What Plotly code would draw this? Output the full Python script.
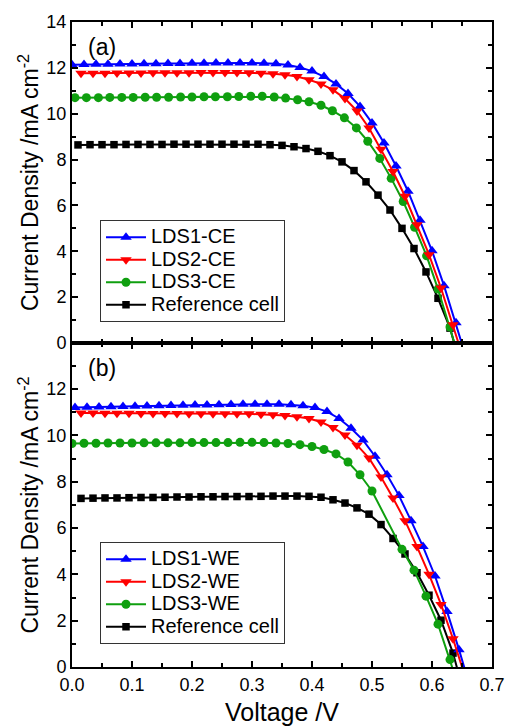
import plotly.graph_objects as go

# ---------------- Panel (a): counter electrode (CE) ----------------
V_a_lds1 = [0.00, 0.02, 0.04, 0.06, 0.08, 0.10, 0.12, 0.14, 0.16, 0.18, 0.20, 0.22, 0.24, 0.26,
            0.28, 0.30, 0.32, 0.34, 0.36, 0.38, 0.40, 0.42, 0.44, 0.46, 0.48, 0.50, 0.52, 0.54,
            0.56, 0.58, 0.60, 0.62, 0.64, 0.66]
J_a_lds1 = [12.14, 12.15, 12.16, 12.16, 12.17, 12.17, 12.18, 12.18, 12.19, 12.19, 12.20, 12.20,
            12.21, 12.21, 12.21, 12.21, 12.20, 12.18, 12.12, 12.02, 11.86, 11.62, 11.30, 10.88,
            10.32, 9.60, 8.72, 7.72, 6.62, 5.35, 4.02, 2.50, 0.88, -0.90]

V_a_lds2 = [0.015, 0.035, 0.055, 0.075, 0.095, 0.115, 0.135, 0.155, 0.175, 0.195, 0.215, 0.235,
            0.255, 0.275, 0.295, 0.315, 0.335, 0.355, 0.375, 0.395, 0.415, 0.435, 0.455, 0.475,
            0.495, 0.515, 0.535, 0.555, 0.575, 0.595, 0.615, 0.635, 0.655]
J_a_lds2 = [11.76, 11.77, 11.77, 11.78, 11.78, 11.78, 11.79, 11.79, 11.79, 11.79, 11.80, 11.80,
            11.80, 11.80, 11.79, 11.77, 11.74, 11.70, 11.62, 11.48, 11.30, 11.04, 10.66, 10.12,
            9.38, 8.45, 7.48, 6.40, 5.16, 3.85, 2.40, 0.80, -0.90]

V_a_lds3 = [0.005, 0.024, 0.044, 0.063, 0.083, 0.102, 0.122, 0.141, 0.161, 0.181, 0.200, 0.220,
            0.239, 0.259, 0.278, 0.298, 0.317, 0.337, 0.356, 0.376, 0.395, 0.415, 0.434, 0.454,
            0.474, 0.493, 0.513, 0.532, 0.552, 0.571, 0.591, 0.610, 0.630, 0.649]
J_a_lds3 = [10.70, 10.70, 10.70, 10.71, 10.71, 10.71, 10.72, 10.72, 10.72, 10.73, 10.73, 10.74,
            10.74, 10.74, 10.75, 10.76, 10.76, 10.73, 10.68, 10.61, 10.52, 10.37, 10.13, 9.82,
            9.38, 8.80, 8.05, 7.18, 6.17, 5.05, 3.80, 2.35, 0.70, -1.00]

V_a_ref = [0.01, 0.03, 0.05, 0.07, 0.09, 0.11, 0.13, 0.15, 0.17, 0.19, 0.21, 0.23, 0.25, 0.27,
           0.29, 0.31, 0.33, 0.35, 0.37, 0.39, 0.41, 0.43, 0.45, 0.47, 0.49, 0.51, 0.53, 0.55,
           0.57, 0.59, 0.61, 0.63, 0.65]
J_a_ref = [8.64, 8.65, 8.65, 8.65, 8.66, 8.66, 8.66, 8.66, 8.67, 8.67, 8.67, 8.67, 8.67, 8.67,
           8.67, 8.67, 8.65, 8.62, 8.56, 8.48, 8.36, 8.17, 7.90, 7.52, 7.03, 6.45, 5.80, 5.00,
           4.12, 3.10, 1.95, 0.65, -1.20]

# ---------------- Panel (b): working electrode (WE) ----------------
V_b_lds1 = [0.005, 0.025, 0.045, 0.065, 0.085, 0.105, 0.125, 0.145, 0.165, 0.185, 0.205, 0.225,
            0.245, 0.265, 0.285, 0.305, 0.325, 0.345, 0.365, 0.385, 0.405, 0.425, 0.445, 0.465,
            0.485, 0.505, 0.525, 0.545, 0.565, 0.585, 0.605, 0.625, 0.645, 0.665]
J_b_lds1 = [11.20, 11.22, 11.23, 11.24, 11.25, 11.26, 11.27, 11.28, 11.29, 11.30, 11.31, 11.31,
            11.32, 11.33, 11.34, 11.35, 11.35, 11.34, 11.32, 11.28, 11.20, 11.03, 10.73, 10.31,
            9.80, 9.10, 8.30, 7.40, 6.32, 5.20, 3.93, 2.40, 0.75, -1.00]

V_b_lds2 = [0.015, 0.035, 0.055, 0.075, 0.095, 0.115, 0.135, 0.155, 0.175, 0.195, 0.215, 0.235,
            0.255, 0.275, 0.295, 0.315, 0.335, 0.355, 0.375, 0.395, 0.415, 0.435, 0.455, 0.475,
            0.495, 0.515, 0.535, 0.555, 0.575, 0.595, 0.615, 0.635, 0.655]
J_b_lds2 = [10.97, 10.97, 10.96, 10.96, 10.96, 10.95, 10.95, 10.95, 10.95, 10.94, 10.94, 10.94,
            10.94, 10.94, 10.93, 10.91, 10.89, 10.86, 10.81, 10.73, 10.58, 10.34, 10.02, 9.58,
            9.02, 8.20, 7.30, 6.32, 5.20, 4.00, 2.70, 1.22, -0.40]

V_b_lds3 = [0.00, 0.02, 0.04, 0.06, 0.08, 0.10, 0.12, 0.14, 0.16, 0.18, 0.20, 0.22, 0.24, 0.26,
            0.28, 0.30, 0.32, 0.34, 0.36, 0.38, 0.40, 0.42, 0.44, 0.46, 0.48, 0.50, 0.55, 0.57,
            0.59, 0.61, 0.63, 0.65]
J_b_lds3 = [9.65, 9.66, 9.66, 9.67, 9.67, 9.67, 9.68, 9.68, 9.68, 9.68, 9.69, 9.69, 9.69, 9.69,
            9.70, 9.70, 9.69, 9.67, 9.65, 9.60, 9.52, 9.39, 9.20, 8.85, 8.30, 7.60, 5.08, 4.18,
            3.06, 1.85, 0.32, -1.30]

V_b_ref = [0.015, 0.035, 0.055, 0.075, 0.095, 0.115, 0.135, 0.155, 0.175, 0.195, 0.215, 0.235,
           0.255, 0.275, 0.295, 0.315, 0.335, 0.355, 0.375, 0.395, 0.415, 0.435, 0.455, 0.475,
           0.495, 0.515, 0.535, 0.555, 0.575, 0.595, 0.615, 0.635, 0.655]
J_b_ref = [7.28, 7.29, 7.30, 7.30, 7.31, 7.32, 7.32, 7.33, 7.34, 7.34, 7.35, 7.35, 7.36, 7.36,
           7.36, 7.37, 7.38, 7.38, 7.38, 7.37, 7.33, 7.22, 7.08, 6.87, 6.60, 6.15, 5.55, 4.88,
           4.07, 3.10, 2.02, 0.60, -1.30]

names_a = ["LDS1-CE", "LDS2-CE", "LDS3-CE", "Reference cell"]
names_b = ["LDS1-WE", "LDS2-WE", "LDS3-WE", "Reference cell"]

x_ticks = [0.0, 0.1, 0.2, 0.3, 0.4, 0.5, 0.6, 0.7]
y_ticks = [0, 2, 4, 6, 8, 10, 12, 14]

FONT = "Liberation Sans, Arial, sans-serif"
BLUE, RED, GREEN, BLACK = "#0000ff", "#ff0000", "#0f9f0f", "#000000"
styles = [
    (BLUE, "triangle-up", 10),
    (RED, "triangle-down", 10),
    (GREEN, "circle", 9),
    (BLACK, "square", 7.5),
]

fig = go.Figure()

def add_panel(series, names, xa, ya, legend):
    # draw reference first, then LDS1, LDS3, LDS2 (red on top)
    for idx in [3, 0, 2, 1]:
        V, J = series[idx]
        color, sym, size = styles[idx]
        fig.add_trace(go.Scatter(
            x=V, y=J, mode="lines+markers",
            name=f"<span style='font-size:20px'>{names[idx]}</span>",
            line=dict(color=color, width=2),
            marker=dict(symbol=sym, size=size, color=color, line=dict(width=0)),
            xaxis=xa, yaxis=ya, legend=legend, legendrank=idx + 1,
            cliponaxis=True,
        ))

add_panel([(V_a_lds1, J_a_lds1), (V_a_lds2, J_a_lds2), (V_a_lds3, J_a_lds3), (V_a_ref, J_a_ref)],
          names_a, "x", "y", "legend")
add_panel([(V_b_lds1, J_b_lds1), (V_b_lds2, J_b_lds2), (V_b_lds3, J_b_lds3), (V_b_ref, J_b_ref)],
          names_b, "x2", "y2", "legend2")

split = 324 / 645.0

def xaxis(anchor, labels, title=None):
    d = dict(
        range=[0, 0.7], tickvals=x_ticks, ticktext=[f"{v:.1f}" for v in x_ticks],
        ticks="inside", ticklen=6, tickwidth=1.5, tickcolor="black",
        minor=dict(dtick=0.05, tick0=0, ticks="inside", ticklen=4, tickwidth=1.5, tickcolor="black"),
        showline=True, linewidth=2, linecolor="black", mirror="allticks",
        showgrid=False, zeroline=False, showticklabels=labels, anchor=anchor,
        tickfont=dict(size=18, family=FONT, color="black"), automargin=False,
    )
    if title:
        d["title"] = dict(text=title, font=dict(size=25, family=FONT, color="black"), standoff=10)
    return d

def yaxis(anchor, domain, rng):
    return dict(
        range=rng, domain=domain, tickvals=y_ticks,
        ticks="inside", ticklen=6, tickwidth=1.5, tickcolor="black",
        minor=dict(dtick=1, tick0=0, ticks="inside", ticklen=4, tickwidth=1.5, tickcolor="black"),
        showline=True, linewidth=2, linecolor="black", mirror="allticks",
        showgrid=False, zeroline=False, anchor=anchor, automargin=False,
        tickfont=dict(size=18, family=FONT, color="black"),
        title=dict(text="Current Density /mA cm<sup>-2</sup>",
                   font=dict(size=23, family=FONT, color="black"), standoff=1),
    )

legend_common = dict(
    xanchor="left", yanchor="top", bgcolor="white", bordercolor="#333", borderwidth=1,
    font=dict(size=15, family=FONT, color="black"), tracegroupgap=0, itemwidth=40,
)

fig.update_layout(
    width=506, height=726,
    margin=dict(l=72, r=14, t=22, b=59, autoexpand=False),
    paper_bgcolor="white", plot_bgcolor="white",
    font=dict(family=FONT, color="black"),
    xaxis=xaxis("y", False),
    yaxis=yaxis("x", [split, 1], [0, 14]),
    xaxis2=xaxis("y2", True, "Voltage /V"),
    yaxis2=yaxis("x2", [0, split], [0, 13.99]),
    legend=dict(x=(100 - 72) / 420, y=(667 - 220) / 645, **legend_common),
    legend2=dict(x=(100 - 72) / 420, y=(667 - 542) / 645, **legend_common),
    showlegend=True,
    annotations=[
        dict(text="(a)", x=(86 - 72) / 420, y=(667 - 47) / 645, xref="paper", yref="paper",
             xanchor="left", yanchor="middle", showarrow=False,
             font=dict(size=23, family=FONT, color="black")),
        dict(text="(b)", x=(86 - 72) / 420, y=(667 - 368) / 645, xref="paper", yref="paper",
             xanchor="left", yanchor="middle", showarrow=False,
             font=dict(size=23, family=FONT, color="black")),
    ],
)

# remove the default page margin so the 506x726 figure fills the window exactly
fig.write_html(
    "out.html",
    config={"displayModeBar": False},
    post_script="document.body.style.margin='0';document.body.style.overflow='hidden';",
)
